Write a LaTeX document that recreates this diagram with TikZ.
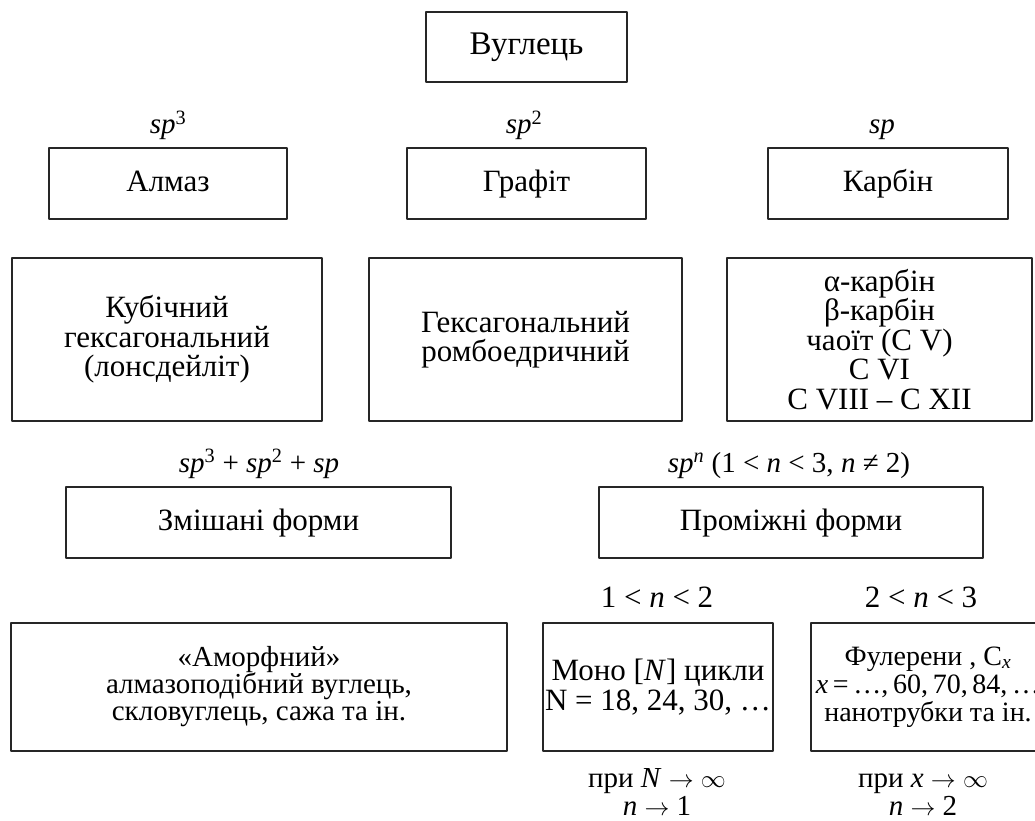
\documentclass[tikz,border=0pt]{standalone}
\usepackage{fontspec}
\setmainfont{Liberation Serif}
\tikzset{
  every picture/.style={line join=round, line cap=round},
  frame/.style={draw=black!85, line width=1.3pt, align=center, inner sep=0pt,
    font=\fontsize{31}{29.5}\selectfont},
  single/.style={frame, text height=22pt, text depth=6pt},
  lbl/.style={align=center, inner sep=0pt, anchor=base,
    font=\fontsize{29}{28}\selectfont},
}
\begin{document}
\begin{tikzpicture}[x=1pt,y=-1pt]
\useasboundingbox (0,0) rectangle (1035,821);
% root
\node[single,font=\fontsize{33}{30}\selectfont,minimum width=201,minimum height=70] (carbon) at (526.5,47) {Вуглець};
% hybridisation
\node[lbl] (sp3) at (168,134) {\textit{sp}\textsuperscript{3}};
\node[lbl] (sp2) at (524,134) {\textit{sp}\textsuperscript{2}};
\node[lbl] (sp1) at (882,134) {\textit{sp}};
\node[single,minimum width=238,minimum height=71] (almaz) at (168,183.5) {Алмаз};
\node[single,minimum width=239,minimum height=71] (grafit) at (526.5,183.5) {Графіт};
\node[single,minimum width=240,minimum height=71] (karbin) at (888,183.5) {Карбін};
% modifications
\node[frame,minimum width=310,minimum height=163] (kub) at (167,339.5)
  {Кубічний\\гексагональний\\(лонсдейліт)};
\node[frame,minimum width=313,minimum height=163] (heks) at (525.5,339.5)
  {Гексагональний\\ромбоедричний};
\node[frame,minimum width=305,minimum height=163] (chain) at (879.5,339.5)
  {α-карбін\\β-карбін\\чаоїт (C V)\\C VI\\C VIII -- C XII};
% mixed and intermediate
\node[lbl] (spmix) at (259,472)
  {\textit{sp}\textsuperscript{3} + \textit{sp}\textsuperscript{2} + \textit{sp}};
\node[lbl] (spn) at (789,472)
  {\textit{sp}\textsuperscript{\textit{n}} (1 < \textit{n} < 3, \textit{n} ≠ 2)};
\node[single,minimum width=385,minimum height=71] (mixed) at (258.5,522.5) {Змішані форми};
\node[single,minimum width=384,minimum height=71] (inter) at (791,522.5) {Проміжні форми};
% lower row
\node[lbl,font=\fontsize{31}{28}\selectfont] (range1) at (657,607) {1 < \textit{n} < 2};
\node[lbl,font=\fontsize{31}{28}\selectfont] (range2) at (921,607) {2 < \textit{n} < 3};
\node[frame,font=\fontsize{29}{27}\selectfont,minimum width=496,minimum height=128] (amorph) at (259,687)
  {«Аморфний»\\алмазоподібний вуглець,\\скловуглець, сажа та ін.};
\node[frame,minimum width=230,minimum height=128] (mono) at (658,687)
  {Моно [\textit{N}] цикли\\N = 18, 24, 30, …};
\node[frame,font=\fontsize{28}{28}\selectfont,minimum width=234,minimum height=128] (fuler) at (928,687)
  {Фулерени , C\textsubscript{\textit{x}}\\\textit{x}\,=\,…,\,60,\,70,\,84,\,…\\нанотрубки та ін.};
\node[lbl] (limN) at (657,815) {при \textit{N} $\rightarrow$ $\infty$\\\textit{n} $\rightarrow$ 1};
\node[lbl] (limx) at (923,815) {при \textit{x} $\rightarrow$ $\infty$\\\textit{n} $\rightarrow$ 2};
\end{tikzpicture}
\end{document}
